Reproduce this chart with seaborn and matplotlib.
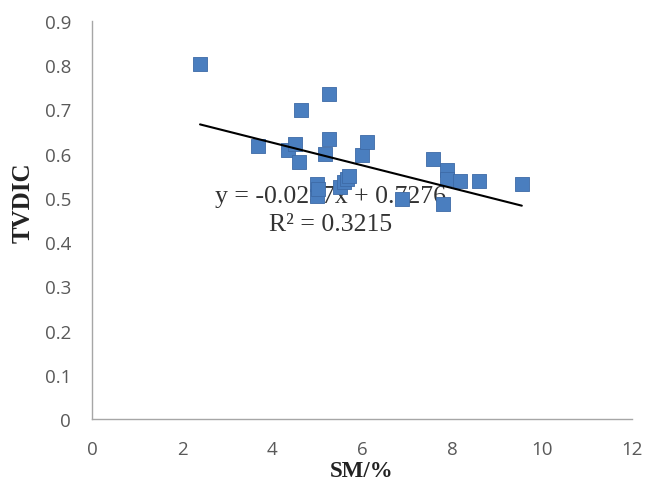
import matplotlib
matplotlib.use("Agg")
import matplotlib.pyplot as plt
import seaborn as sns
import numpy as np
import pandas as pd

sm = [2.40, 3.68, 4.36, 4.51, 4.61, 4.64, 4.99, 4.99, 5.03, 5.18, 5.27, 5.27, 5.51,
      5.59, 5.66, 5.70, 5.99, 6.10, 6.88, 7.58, 7.80, 7.88, 7.88, 8.18, 8.59, 9.55]
tvdic = [0.803, 0.616, 0.607, 0.622, 0.581, 0.698, 0.505, 0.532, 0.520, 0.600, 0.735, 0.633, 0.524,
         0.535, 0.543, 0.550, 0.596, 0.626, 0.498, 0.588, 0.487, 0.562, 0.543, 0.539, 0.537, 0.532]
slope = -0.0257
intercept = 0.7276
eq_text = "y = -0.0257x + 0.7276"
r2_text = "R² = 0.3215"
xticks = [0, 2, 4, 6, 8, 10, 12]
yticks = [0, 0.1, 0.2, 0.3, 0.4, 0.5, 0.6, 0.7, 0.8, 0.9]
ytick_labels = ["0", "0.1", "0.2", "0.3", "0.4", "0.5", "0.6", "0.7", "0.8", "0.9"]

df = pd.DataFrame({"SM": sm, "TVDIC": tvdic})

sns.set_style("white")
plt.rcParams['font.family'] = ['DejaVu Sans']

fig = plt.figure(figsize=(6.55, 4.85), dpi=100)
ax = fig.add_axes([0.1405, 0.134, 0.8245, 0.821])

sns.scatterplot(data=df, x="SM", y="TVDIC", marker="s", s=95, color="#4a7ebf",
                edgecolor="#3d6aa6", linewidth=0.6, ax=ax, zorder=3)

xl = np.array([min(sm), max(sm)])
ax.plot(xl, slope * xl + intercept, color="black", lw=1.5, zorder=4)

ax.text(5.29, 0.504, eq_text, ha="center", va="center", fontsize=18.5,
        family="Liberation Serif", color="#333333", zorder=2)
ax.text(5.29, 0.441, r2_text, ha="center", va="center", fontsize=18.5,
        family="Liberation Serif", color="#333333", zorder=2)

ax.set_xlim(0, 12)
ax.set_ylim(0, 0.9)
ax.set_xticks(xticks)
ax.set_yticks(yticks)
ax.set_yticklabels(ytick_labels)
ax.tick_params(axis="both", direction="in", length=5, width=0.8, color="#a6a6a6",
               labelsize=13.5, labelcolor="#595959", pad=15)
for lab in ax.get_xticklabels() + ax.get_yticklabels():
    lab.set_family("Open Sans")

for s in ["top", "right"]:
    ax.spines[s].set_visible(False)
for s in ["left", "bottom"]:
    ax.spines[s].set_color("#a6a6a6")
    ax.spines[s].set_linewidth(1.0)

ax.set_xlabel("SM/%", fontsize=16.5, fontweight="bold", family="Liberation Serif",
              color="#222222")
ax.set_ylabel("TVDIC", fontsize=18, fontweight="bold", family="Liberation Serif",
              color="#222222")
ax.xaxis.set_label_coords(0.5, -0.103)
ax.yaxis.set_label_coords(-0.106, 0.545)

fig.savefig("out.png", dpi=100)
